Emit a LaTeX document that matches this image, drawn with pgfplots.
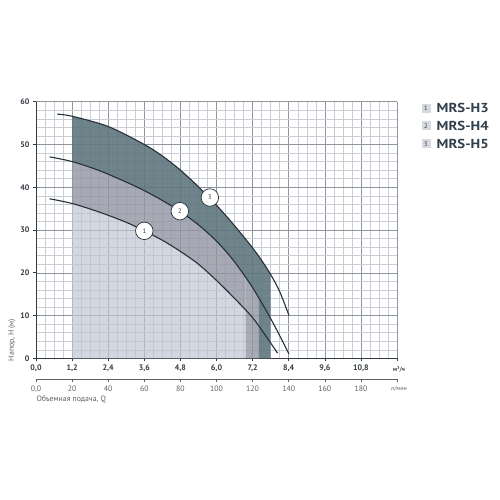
\documentclass[border=0pt]{standalone}
\usepackage{fontspec}
\setmainfont{PT Sans}
\usepackage{pgfplots}
\pgfplotsset{compat=1.18}
\usepgfplotslibrary{fillbetween}
\definecolor{fdark}{HTML}{5F757E}
\definecolor{fmed}{HTML}{9194A2}
\definecolor{flight}{HTML}{C0C6D3}
\definecolor{crv}{HTML}{26313A}
\definecolor{gmaj}{HTML}{8E959C}
\definecolor{gmin}{HTML}{C9CED4}
\definecolor{txt}{HTML}{333B42}
\definecolor{leg}{HTML}{2F3E4A}
\definecolor{legbox}{HTML}{D6D9DF}
\definecolor{sub}{HTML}{5A6168}
\begin{document}
\begin{tikzpicture}
\begin{axis}[
  at={(36pt,141.7pt)}, anchor=south west, scale only axis,
  width=361pt, height=256.6pt,
  xmin=0, xmax=12, ymin=0, ymax=60,
  set layers,
  axis lines=left, axis line style={-, line width=0.8pt, color=txt},
  xtick={0,1.2,2.4,3.6,4.8,6.0,7.2,8.4,9.6,10.8,12},
  xticklabels={0{,}0,1{,}2,2{,}4,3{,}6,4{,}8,6{,}0,7{,}2,8{,}4,9{,}6,10{,}8,{}},
  ytick={0,10,...,60},
  minor x tick num=3, minor y tick num=4,
  grid=both,
  major grid style={draw=gmaj, line width=0.5pt},
  minor grid style={draw=gmin, line width=0.4pt},
  tick align=outside, major tick length=3pt, minor tick length=0pt,
  tick style={color=txt, line width=0.6pt},
  ticklabel style={font=\fontsize{8}{9}\selectfont\bfseries, text=txt},
  /pgf/number format/assume math mode=true,
]
\addplot[draw=none, name path=base] coordinates {(0,0) (12,0)};
\addplot[crv, line width=1.1pt, smooth, name path=c1] coordinates {
(0.45,37.3) (1.2,36.2) (2.1,34.2) (3.0,31.8) (3.6,29.8) (4.2,27.6) (4.8,25.0)
(5.4,22.0) (6.0,18.2) (6.6,14.0) (7.2,9.5) (7.72,4.4) (8.03,1.2)};
\addplot[crv, line width=1.1pt, smooth, name path=c2] coordinates {
(0.45,47.1) (1.2,46.0) (2.1,43.9) (3.0,41.2) (3.6,39.2) (4.2,36.9) (4.8,34.3)
(5.4,31.2) (6.0,27.4) (6.55,23.0) (7.1,17.6) (7.5,13.0) (7.8,9.3) (8.1,5.3) (8.41,1.0)};
\addplot[crv, line width=1.1pt, smooth, name path=c3] coordinates {
(0.7,57.1) (1.2,56.6) (2.4,54.2) (3.6,50.0) (4.2,47.3) (4.8,44.0) (5.4,40.1)
(6.0,35.8) (6.6,31.0) (7.2,25.8) (7.5,22.9) (7.8,19.6) (8.1,15.6) (8.41,10.0)};
\addplot[fill=flight, fill opacity=0.7] fill between[of=c1 and base, soft clip={domain=1.2:6.97}];
\addplot[fill=fmed, fill opacity=0.8] fill between[of=c2 and c1, soft clip={domain=1.2:6.97}];
\addplot[fill=fmed, fill opacity=0.8] fill between[of=c2 and base, soft clip={domain=6.97:7.41}];
\addplot[fill=fdark, fill opacity=0.9] fill between[of=c3 and c2, soft clip={domain=1.2:7.41}];
\addplot[fill=fdark, fill opacity=0.9] fill between[of=c3 and base, soft clip={domain=7.41:7.8}];
\node[circle, draw=crv, fill=white, line width=0.7pt, minimum size=17.5pt, inner sep=0pt,
  font=\fontsize{6.5}{7}\selectfont, text=txt] at (axis cs:3.6,29.8) {1};
\node[circle, draw=crv, fill=white, line width=0.7pt, minimum size=17.5pt, inner sep=0pt,
  font=\fontsize{6.5}{7}\selectfont, text=txt] at (axis cs:4.78,34.4) {2};
\node[circle, draw=crv, fill=white, line width=0.7pt, minimum size=17.5pt, inner sep=0pt,
  font=\fontsize{6.5}{7}\selectfont, text=txt] at (axis cs:5.78,37.6) {3};
\end{axis}
\begin{axis}[
  at={(36pt,121pt)}, anchor=south west, scale only axis,
  width=361pt, height=10pt,
  xmin=0, xmax=200, ymin=0, ymax=1,
  axis x line*=bottom, hide y axis,
  axis line style={-, line width=0.7pt, color=sub},
  xtick={0,20,40,60,80,100,120,140,160,180,200},
  xticklabels={0{,}0,20,40,60,80,100,120,140,160,180,{}},
  tick align=outside, major tick length=3pt,
  tick style={color=sub, line width=0.6pt},
  ticklabel style={font=\fontsize{7.8}{8.5}\selectfont, text=sub},
  /pgf/number format/assume math mode=true,
]
\addplot[draw=none] coordinates {(0,0) (200,1)};
\end{axis}
% axis captions
\node[font=\fontsize{7.8}{8.5}\selectfont, text=sub, rotate=90] at (12pt,160pt) {Напор, H (м)};
\node[font=\fontsize{7.8}{8.5}\selectfont, text=sub, anchor=west] at (33pt,100.5pt) {Объемная подача, Q};
\node[font=\fontsize{6}{7}\selectfont\bfseries, text=txt] at (399pt,130.3pt) {м³/ч};
\node[font=\fontsize{6}{7}\selectfont, text=sub] at (399pt,111pt) {л/мин};
% legend
\foreach \i/\n/\yy in {1/MRS-H3/391.7, 2/MRS-H4/374, 3/MRS-H5/356}{
  \node[fill=legbox, minimum size=9pt, inner sep=0pt, font=\fontsize{6.5}{7}\selectfont, text=txt] at (426pt,\yy pt) {\i};
  \node[anchor=west, inner sep=0pt, font=\fontsize{13}{14}\selectfont\bfseries\addfontfeature{FakeStretch=1.14}, text=leg] at (436.5pt,\yy pt) {\n};
}
\path (0,0) rectangle (500pt,500pt);
\end{tikzpicture}
\end{document}
